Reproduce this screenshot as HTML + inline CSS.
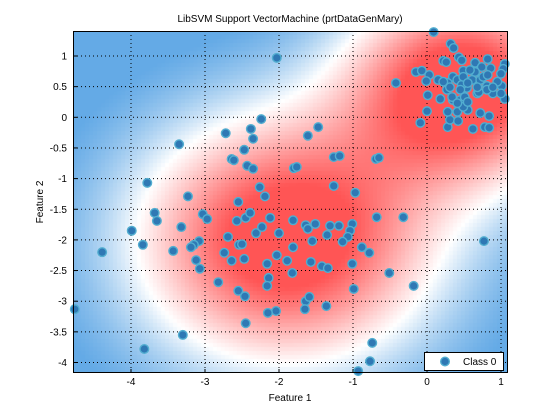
<!DOCTYPE html>
<html><head><meta charset="utf-8"><style>
body{margin:0;background:#fff;width:560px;height:419px;overflow:hidden}
#wrap{position:relative;width:560px;height:419px}
canvas{position:absolute;left:73px;top:31px}
svg{position:absolute;left:0;top:0}
text{font-family:"Liberation Sans",sans-serif;font-size:10px;fill:#000}
</style></head><body>
<div id="wrap">
<canvas id="bg" width="435" height="342"></canvas>
<svg id="svg" width="560" height="419"></svg>
</div>
<script>
const xTicks=[-4,-3,-2,-1,0,1];
const yTicks=[-4,-3.5,-3,-2.5,-2,-1.5,-1,-0.5,0,0.5,1];
const xTickLabels=["-4","-3","-2","-1","0","1"];
const yTickLabels=["-4","-3.5","-3","-2.5","-2","-1.5","-1","-0.5","0","0.5","1"];
const ptsX=[-2.03,-2.24,-2.72,-2.38,-2.35,-3.35,-2.47,-2.64,-2.61,-2.43,-2.35,-3.78,-2.26,-3.23,-2.19,-2.55,-3.68,-3.65,-3.03,-2.97,-3.32,-3.99,-3.84,-4.39,-3.43,-3.08,-3.15,-3.19,-3.12,-3.07,-2.57,-2.45,-2.39,-2.12,-2.31,-2.23,-2.00,-2.69,-2.74,-2.64,-2.54,-2.50,-2.47,-2.16,-2.03,-2.14,-2.16,-2.82,-2.55,-2.46,-4.76,-2.04,-2.15,-2.45,-3.30,-3.82,-1.47,-1.61,-1.26,-1.18,-0.69,-0.65,-1.80,-1.76,-1.26,-0.97,-1.81,-1.64,-1.61,-1.51,-1.31,-1.19,-1.01,-1.04,-1.07,-0.68,-1.35,-1.55,-1.14,-0.88,-1.81,-1.89,-1.57,-1.42,-1.34,-1.82,-1.01,-0.78,-0.99,-1.64,-1.59,-1.65,-1.36,-0.32,0.77,-0.51,-0.18,-0.74,-0.77,-0.93,
0.09,0.32,0.36,0.43,0.47,0.22,0.26,-0.15,-0.07,0.03,-0.01,-0.42,0.01,0.18,0.00,-0.09,0.28,0.31,0.62,0.78,0.84,0.72,0.84,0.82,0.65,0.74,0.86,0.49,1.05,1.03,1.00,1.01,1.05,0.95,0.81,0.89,1.00,0.68,0.70,0.41,0.55,0.28,0.15,0.27,0.35,0.45,0.51,0.54,0.61,0.72,0.35,0.41,0.47,0.28,0.22,0.49,0.65,0.76,0.82,0.58,0.34,0.49,0.41,0.55,0.68,0.81,0.89,0.31,0.45,0.55,0.42];
const ptsY=[0.97,-0.03,-0.26,-0.19,-0.35,-0.44,-0.53,-0.68,-0.70,-0.79,-0.84,-1.07,-1.14,-1.29,-1.29,-1.38,-1.56,-1.69,-1.58,-1.66,-1.79,-1.85,-2.08,-2.20,-2.18,-2.02,-2.08,-2.12,-2.33,-2.47,-1.69,-1.64,-1.56,-1.64,-1.89,-1.79,-1.89,-1.95,-2.21,-2.34,-2.08,-2.07,-2.31,-2.39,-2.25,-2.62,-2.75,-2.69,-2.83,-2.92,-3.13,-3.16,-3.19,-3.36,-3.55,-3.78,-0.16,-0.30,-0.65,-0.63,-0.68,-0.66,-0.83,-0.81,-1.12,-1.23,-1.68,-1.76,-1.82,-1.74,-1.77,-1.77,-1.74,-1.85,-1.95,-1.63,-1.92,-2.02,-2.03,-2.12,-2.12,-2.34,-2.36,-2.43,-2.46,-2.54,-2.39,-2.21,-2.80,-3.00,-2.93,-3.13,-3.08,-1.63,-2.02,-2.54,-2.75,-3.68,-3.98,-4.14,
1.39,1.20,1.13,0.98,0.93,0.92,0.90,0.74,0.76,0.69,0.59,0.56,0.36,0.30,0.10,-0.09,-0.16,-0.04,-0.19,-0.16,-0.17,0.07,0.02,0.95,0.89,0.82,0.80,0.76,0.87,0.79,0.71,0.51,0.30,0.58,0.51,0.39,0.39,0.39,0.41,0.09,0.12,0.09,0.61,0.45,0.28,0.28,0.33,0.48,0.61,0.61,0.66,0.61,0.53,0.56,0.58,0.66,0.74,0.66,0.69,0.77,0.33,0.17,0.23,0.25,0.49,0.45,0.49,0.49,0.45,0.56,-0.06];

const L=73,T=31,R=508,B=373;
const sx=v=>427+v*74;
const sy=v=>117.3-v*61.3;
const ix=p=>(p-427)/74, iy=p=>(117.3-p)/61.3;

const cv=document.getElementById('bg'),ctx=cv.getContext('2d');
const step=4;
for(let py=0;py<342;py+=step){for(let px=0;px<435;px+=step){
 const x=ix(L+px+step/2),y=iy(T+py+step/2);
 const d1=(x-0.5)**2+(y-0.5)**2,d2=(x+1.9)**2+(y+2)**2;
 const v=Math.exp(-d1/2.42)+Math.exp(-d2/4.0)-0.36;
 let r,g,b;
 if(v>0){const t=Math.min(1,v/0.5);r=255;g=Math.round(255-170*t);b=Math.round(255-170*t);}
 else{const t=Math.min(1,-v/0.3);r=Math.round(255-155*t);g=Math.round(255-85*t);b=Math.round(255-25*t);}
 ctx.fillStyle=`rgb(${r},${g},${b})`;ctx.fillRect(px,py,step,step);
}}

const svg=document.getElementById('svg');const NS='http://www.w3.org/2000/svg';
function mk(tag,attrs,parent){const e=document.createElementNS(NS,tag);for(const k in attrs)e.setAttribute(k,attrs[k]);(parent||svg).appendChild(e);return e;}

const grid=mk('g',{});


xTicks.forEach((t,i)=>{
 const x=sx(t);
 const l=mk('line',{x1:x,y1:T,x2:x,y2:B,stroke:'#000','stroke-width':1,'stroke-dasharray':'1,3'},grid);
 
 
 const tk=mk('line',{x1:x,y1:B,x2:x,y2:B-4,stroke:'#000'});
 
 
 const tx=mk('text',{x:x,y:B+12,'text-anchor':'middle'});tx.textContent=xTickLabels[i];
 
 
});
yTicks.forEach((t,i)=>{
 const y=sy(t);
 const l=mk('line',{x1:L,y1:y,x2:R,y2:y,stroke:'#000','stroke-width':1,'stroke-dasharray':'1,3'},grid);
 
 
 const tk=mk('line',{x1:L,y1:y,x2:L+4,y2:y,stroke:'#000'});
 
 
 const tx=mk('text',{x:L-6,y:y+3.5,'text-anchor':'end'});tx.textContent=yTickLabels[i];
 
 
});

const pg=mk('g',{});


for(let i=0;i<ptsX.length;i++){
 const c=mk('circle',{cx:sx(ptsX[i]),cy:sy(ptsY[i]),r:4.3,fill:'#2f78b4',stroke:'#52aed0','stroke-width':1.4},pg);
 
 
}

const frame=mk('rect',{x:L+0.5,y:T+0.5,width:R-L-1,height:B-T-1,fill:'none',stroke:'#000'});



const lg=mk('g',{});


mk('rect',{x:424.5,y:352.5,width:79,height:18,fill:'#fff',stroke:'#000'},lg);
mk('circle',{cx:445,cy:361.5,r:4.3,fill:'#2f78b4',stroke:'#52aed0','stroke-width':1.4},lg);
const lt=mk('text',{x:463,y:365},lg);lt.textContent='Class 0';



const title=mk('text',{x:290,y:22,'text-anchor':'middle'});title.textContent='LibSVM Support VectorMachine (prtDataGenMary)';


const xl=mk('text',{x:290,y:401,'text-anchor':'middle'});xl.textContent='Feature 1';


const yl=mk('text',{x:43,y:202,'text-anchor':'middle',transform:'rotate(-90 43 202)'});yl.textContent='Feature 2';


</script>
</body></html>
